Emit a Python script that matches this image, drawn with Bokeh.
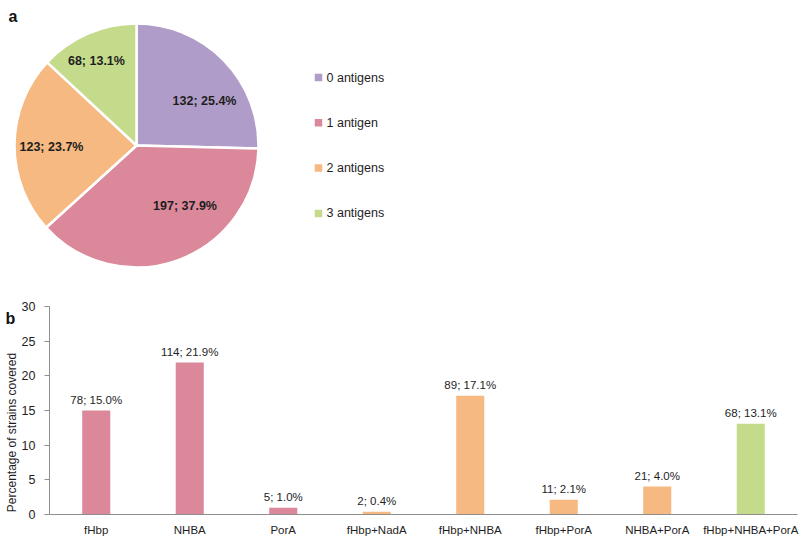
import math
from bokeh.plotting import figure
from bokeh.models import Range1d, FactorRange, FixedTicker, Label, ColumnDataSource
from bokeh.core.properties import value
from bokeh.embed import file_html
from bokeh.resources import INLINE

# ---------------- data ----------------
pie_labels = ["0 antigens", "1 antigen", "2 antigens", "3 antigens"]
pie_counts = [132, 197, 123, 68]
pie_colors = ["#B09CC8", "#DB889A", "#F5B981", "#C5DB8C"]

bar_categories = ["fHbp", "NHBA", "PorA", "fHbp+NadA", "fHbp+NHBA",
                  "fHbp+PorA", "NHBA+PorA", "fHbp+NHBA+PorA"]
bar_counts = [78, 114, 5, 2, 89, 11, 21, 68]
bar_antigens = [1, 1, 1, 2, 2, 2, 2, 3]
y_ticks = [0, 5, 10, 15, 20, 25, 30]
y_title = "Percentage of strains covered"

total = sum(pie_counts)

# ---------------- style / layout ----------------
FONT = "Liberation Sans"
TXT = "#1e1e1e"
AX = "#8e8e8e"
W = 800
H = 539          # full page canvas (panel a + panel labels)
H2 = 249         # panel b, overlaid on the lower part of the page

# ---------------- page canvas with panel a ----------------
p1 = figure(width=W, height=H, x_range=Range1d(0, W), y_range=Range1d(0, H),
            output_backend="svg", toolbar_location=None, min_border=0,
            x_axis_type=None, y_axis_type=None)
p1.grid.visible = False
p1.outline_line_color = None

cx, cy, R = 136, H - 145, 122
label_r = 0.66 * R
label_nudge = [(10.4, -12.2), (20.4, 14.9), (-4.5, -1.5), (-7.9, 10.2)]

starts, ends, lx, ly, ltxt = [], [], [], [], []
cum = 0
for i, c in enumerate(pie_counts):
    a0 = math.pi / 2 - 2 * math.pi * cum / total
    cum += c
    a1 = math.pi / 2 - 2 * math.pi * cum / total
    starts.append(a0)
    ends.append(a1)
    mid = (a0 + a1) / 2
    lx.append(cx + label_r * math.cos(mid) + label_nudge[i][0])
    ly.append(cy + label_r * math.sin(mid) + label_nudge[i][1])
    ltxt.append(f"{c}; {100 * c / total:.1f}%")

pie_src = ColumnDataSource(dict(start=starts, end=ends, color=pie_colors,
                                lx=lx, ly=ly, txt=ltxt))
p1.wedge(x=cx, y=cy, radius=R, start_angle="start", end_angle="end",
         direction="clock", fill_color="color", line_color="white",
         line_width=2.5, source=pie_src)
p1.text(x="lx", y="ly", text="txt", source=pie_src, text_align="center",
        text_baseline="middle", text_font=value(FONT), text_font_size="12.5px",
        text_font_style="bold", text_color=TXT)

# legend (manual)
leg_x, leg_top, leg_gap = 318, H - 77, 45.3
leg_y = [leg_top - i * leg_gap for i in range(len(pie_labels))]
leg_src = ColumnDataSource(dict(y=leg_y, color=pie_colors, label=pie_labels))
p1.scatter(x=leg_x, y="y", marker="square", size=7.5, fill_color="color",
           line_color=None, source=leg_src)
p1.text(x=leg_x + 8, y="y", text="label", source=leg_src, text_align="left",
        text_baseline="middle", text_font=value(FONT), text_font_size="12.5px",
        text_color=TXT)

# panel letters and the y-axis title of panel b
p1.add_layout(Label(x=8, y=H - 15.5, text="a", text_font=FONT,
                    text_font_size="16px", text_font_style="bold",
                    text_color="#111111", text_baseline="alphabetic"))
p1.add_layout(Label(x=5, y=H - 318, text="b", text_font=FONT,
                    text_font_size="16px", text_font_style="bold",
                    text_color="#111111", text_baseline="alphabetic"))
p1.add_layout(Label(x=11, y=H - 432, text=y_title, angle=math.pi / 2,
                    text_align="center", text_baseline="middle",
                    text_font=FONT, text_font_size="12px", text_color=TXT))

# ---------------- panel b: bars ----------------
pct = [100 * c / total for c in bar_counts]
bar_colors = [pie_colors[k] for k in bar_antigens]
bar_txt = [f"{c}; {100 * c / total:.1f}%" for c in bar_counts]

p2 = figure(width=W, height=H2,
            x_range=FactorRange(*bar_categories, range_padding=0),
            y_range=Range1d(0, 30), output_backend="svg",
            toolbar_location=None, min_border_left=49, min_border_right=3,
            min_border_top=16, min_border_bottom=25,
            margin=(-H2, 0, 0, 0))
p2.grid.visible = False
p2.outline_line_color = None
p2.background_fill_color = None
p2.border_fill_color = None

bar_src = ColumnDataSource(dict(cat=bar_categories, pct=pct, color=bar_colors,
                                txt=bar_txt))
p2.vbar(x="cat", top="pct", width=0.3, fill_color="color", line_color=None,
        source=bar_src)
p2.text(x="cat", y="pct", text="txt", source=bar_src, text_align="center",
        text_baseline="bottom", y_offset=-5, text_font=value(FONT),
        text_font_size="11.5px", text_color=TXT)

yax = p2.yaxis[0]
yax.ticker = FixedTicker(ticks=y_ticks)
yax.axis_line_color = AX
yax.major_tick_line_color = AX
yax.major_tick_out = 5
yax.major_tick_in = 0
yax.minor_tick_line_color = None
yax.major_label_standoff = 9
yax.major_label_text_font = FONT
yax.major_label_text_font_size = "12.5px"
yax.major_label_text_color = TXT

xax = p2.xaxis[0]
xax.axis_line_color = AX
xax.major_tick_line_color = None
xax.minor_tick_line_color = None
xax.major_tick_out = 0
xax.major_label_standoff = 9
xax.major_label_text_font = FONT
xax.major_label_text_font_size = "11.5px"
xax.major_label_text_color = TXT

open("out.html", "w").write(file_html([p1, p2], INLINE))
